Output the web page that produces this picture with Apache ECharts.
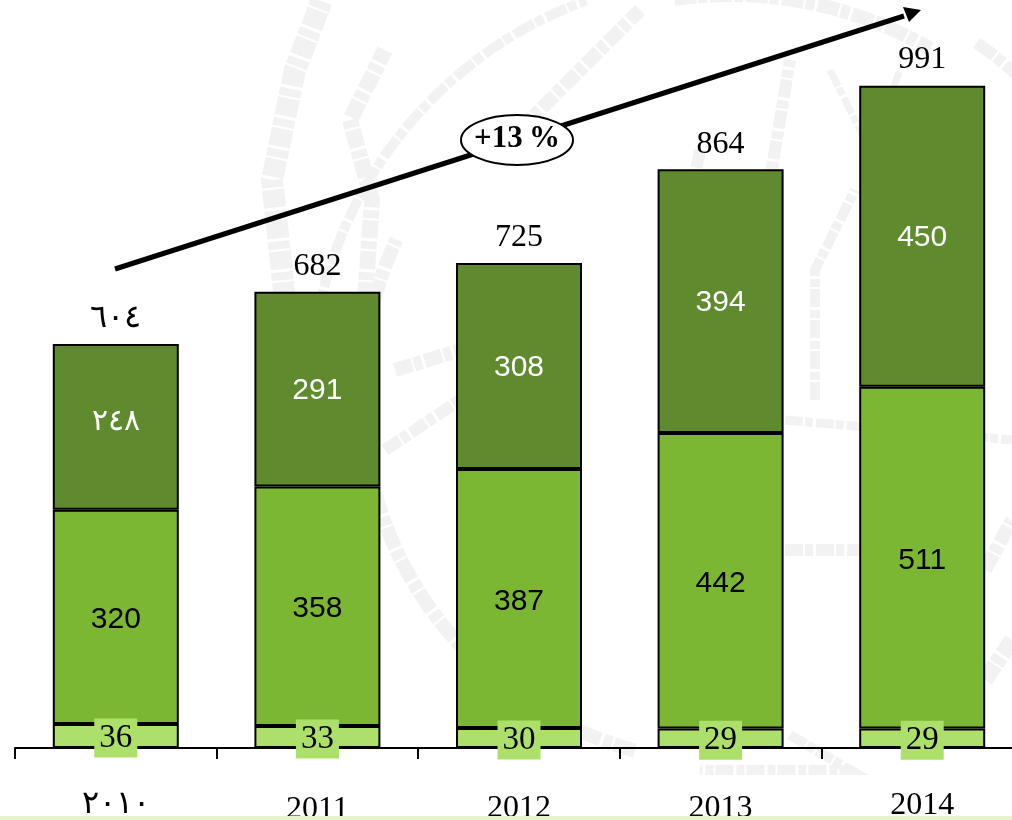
<!DOCTYPE html>
<html><head><meta charset="utf-8">
<style>html,body{margin:0;padding:0;background:#fff}#c{width:1012px;height:820px}</style>
<script src="https://cdn.jsdelivr.net/npm/echarts@6/dist/echarts.min.js"></script>
</head><body><div id="c"></div>
<script>
const categories = ['٢٠١٠','2011','2012','2013','2014'];
const lowerValues = [36,33,30,29,29];
const middleValues = [320,358,387,442,511];
const upperValues = [248,291,308,394,450];
const totalValues = [604,682,725,864,991];
const upperLabels = ['٢٤٨','291','308','394','450'];
const totalLabels = ['٦٠٤','682','725','864','991'];
const categoryShift = [0,5,4,4,1];
const growthText = '+13\u2009%';

const serif = '"Liberation Serif","DejaVu Serif",serif';
const sans = '"Liberation Sans",Arial,sans-serif';
const wm = '#f2f2f2';
function wmArc(cx,cy,r,a0,a1,w){return {type:'arc',z:0,silent:true,shape:{cx,cy,r,startAngle:a0*Math.PI/180,endAngle:a1*Math.PI/180,clockwise:true},style:{fill:null,stroke:wm,lineWidth:w,lineDash:[22,2,9,3]}};}
function wmLine(pts,w){return {type:'polyline',z:0,silent:true,shape:{points:pts},style:{fill:null,stroke:wm,lineWidth:w,lineDash:[18,2,8,3]}};}

const chart = echarts.init(document.getElementById('c'),null,{renderer:'canvas'});
const bar = (name,data,color,label)=>({name,type:'bar',stack:'t',barWidth:126,data,
  itemStyle:{color,borderColor:'#000',borderWidth:2},label,z:3});
chart.setOption({
  animation:false,backgroundColor:'#fff',
  grid:{left:15,top:0,width:1008,height:748,outerBoundsMode:'none',containLabel:false},
  xAxis:{type:'category',data:categories,
    axisLine:{lineStyle:{color:'#000',width:2}},
    axisTick:{show:true,length:11,lineStyle:{color:'#000',width:2},alignWithLabel:false},
    axisLabel:{margin:41,interval:0,color:'#000',fontFamily:serif,fontSize:32,
      formatter:(v,i)=>'{s'+categoryShift[i]+'|'+v+'}',
      rich:Object.fromEntries([0,1,4,5].map(s=>['s'+s,{fontFamily:serif,fontSize:32,color:'#000',padding:[s,0,0,0]}]))}},
  yAxis:{type:'value',min:0,max:1118,show:false},
  series:[
    bar('lower',lowerValues,'#ADE06B',{show:true,position:'inside',offset:[0,2],fontFamily:serif,fontSize:33,color:'#000',
      backgroundColor:'#ADE06B',padding:[0,5],lineHeight:39,height:39}),
    bar('middle',middleValues,'#7CB733',{show:true,position:'inside',offset:[0,3],fontFamily:sans,fontSize:30,color:'#000'}),
    bar('upper',upperValues.map((v,i)=>i===0?{value:v,label:{offset:[0,-5]}}:v),'#5F8A2D',{show:true,position:'inside',offset:[0,2],fontFamily:sans,fontSize:30,color:'#fff',
      formatter:p=>upperLabels[p.dataIndex]}),
    {name:'total',type:'line',data:totalValues,symbol:'circle',symbolSize:1,itemStyle:{color:'rgba(0,0,0,0)'},lineStyle:{opacity:0},z:4,
      label:{show:true,position:'top',distance:9,fontFamily:serif,fontSize:32,color:'#000',
        formatter:p=>totalLabels[p.dataIndex]}}
  ],
  graphic:{elements:[
    wmArc(730,395,368,105,205,14),
    wmArc(730,395,420,190,250,10),
    wmArc(730,395,400,262,300,14),
    wmArc(730,395,430,305,325,12),
    wmLine([[285,300],[272,180],[295,70],[322,0]],22),
    wmLine([[365,300],[372,200],[350,120],[385,50]],16),
    wmLine([[395,370],[560,320]],14),
    wmLine([[385,450],[460,400],[560,380]],12),
    wmLine([[520,130],[560,90],[640,10]],14),
    wmLine([[700,150],[690,200],[770,180],[790,60]],12),
    wmLine([[830,70],[870,150],[900,70]],7),
    wmLine([[815,400],[815,270],[855,190]],10),
    wmLine([[785,420],[900,430],[1012,440]],9),
    wmLine([[785,550],[860,550]],12),
    wmLine([[790,735],[850,770],[700,770]],10),
    wmLine([[985,570],[1012,520]],14),
    wmLine([[985,680],[1012,640]],16),
    {type:'line',z:10,silent:true,shape:{x1:115,y1:269,x2:904,y2:16},style:{stroke:'#000',lineWidth:5}},
    {type:'polygon',z:10,silent:true,shape:{points:[[921,10],[903,7],[909,22]]},style:{fill:'#000'}},
    {type:'ellipse',z:11,silent:true,shape:{cx:517,cy:140,rx:56,ry:25},style:{fill:'#fff',stroke:'#000',lineWidth:2}},
    {type:'text',z:12,silent:true,x:517,y:139,style:{text:growthText,fill:'#000',font:'bold 31px '+serif,textAlign:'center',textVerticalAlign:'middle'}},
    {type:'rect',z:12,silent:true,shape:{x:0,y:816,width:1012,height:4},style:{fill:'#E6F3CC'}}
  ]}
});
</script></body></html>
